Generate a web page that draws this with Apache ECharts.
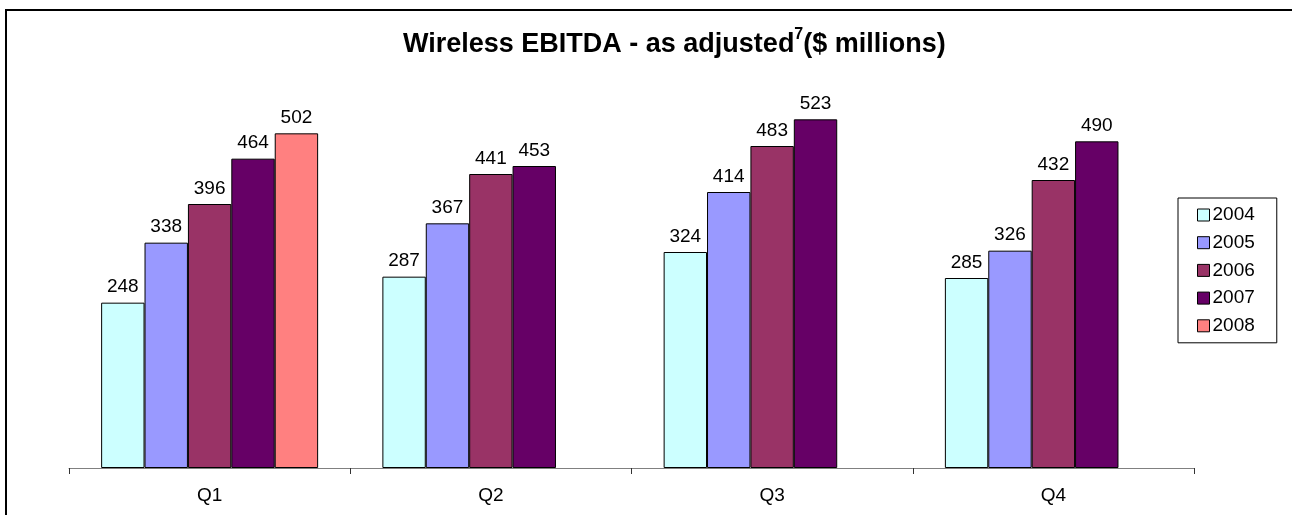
<!DOCTYPE html>
<html>
<head>
<meta charset="utf-8">
<script src="https://cdn.jsdelivr.net/npm/echarts@6/dist/echarts.min.js"></script>
<style>html,body{margin:0;padding:0;background:#fff}#c{width:1292px;height:515px}</style>
</head>
<body>
<div id="c"></div>
<script>
var categories = ['Q1', 'Q2', 'Q3', 'Q4'];
var years = ['2004', '2005', '2006', '2007', '2008'];
var s2004 = [248, 287, 324, 285];
var s2005 = [338, 367, 414, 326];
var s2006 = [396, 441, 483, 432];
var s2007 = [464, 453, 523, 490];
var s2008 = [502, null, null, null];
var colors = ['#CCFFFF', '#9999FF', '#993366', '#660066', '#FF8080'];
var seriesValues = [s2004, s2005, s2006, s2007, s2008];

var font = 'Liberation Sans, Arial, sans-serif';
var chart = echarts.init(document.getElementById('c'), null, {renderer: 'canvas'});
var series = years.map(function (y, i) {
  return {
    name: y,
    type: 'bar',
    data: seriesValues[i],
    barWidth: 43.4,
    barGap: '0%',
    itemStyle: {color: colors[i], borderColor: '#000', borderWidth: 1},
    label: {show: true, position: 'top', distance: 6, color: '#000', fontSize: 19, fontFamily: font},
    animation: false
  };
});
chart.setOption({
  animation: false,
  graphic: [{
    type: 'rect', shape: {x: 6, y: 10, width: 1300, height: 520},
    style: {fill: 'none', stroke: '#000', lineWidth: 2}, silent: true
  }],
  title: {
    text: '{a|Wireless EBITDA - as adjusted}{s|7}{a|($ millions)}',
    left: 398, top: 22,
    textStyle: {
      rich: {
        a: {fontSize: 27, fontWeight: 'bold', fontFamily: font, color: '#000'},
        s: {fontSize: 16, fontWeight: 'bold', fontFamily: font, color: '#000', padding: [0, 0, 19, 0]}
      }
    }
  },
  legend: {
    orient: 'vertical', left: 1178, top: 198,
    data: years,
    itemWidth: 12, itemHeight: 12, itemGap: 8.7,
    padding: [7.5, 22, 7.5, 19],
    borderColor: '#000', borderWidth: 1,
    icon: 'rect',
    itemStyle: {borderColor: '#000', borderWidth: 1},
    textStyle: {fontSize: 19, fontFamily: font, color: '#000', lineHeight: 19, padding: [0, 0, 0, -2]}
  },
  grid: {left: 69, right: 98, top: 68, bottom: 47},
  xAxis: {
    type: 'category', data: categories,
    axisLine: {lineStyle: {color: '#808080', width: 1}},
    axisTick: {show: true, interval: 0, alignWithLabel: false, length: 6, lineStyle: {color: '#333'}},
    axisLabel: {fontSize: 19, fontFamily: font, color: '#000', margin: 18}
  },
  yAxis: {
    type: 'value', min: 0, max: 600, interval: 100, show: false,
    splitLine: {show: false}
  },
  series: series
});
</script>
</body>
</html>
